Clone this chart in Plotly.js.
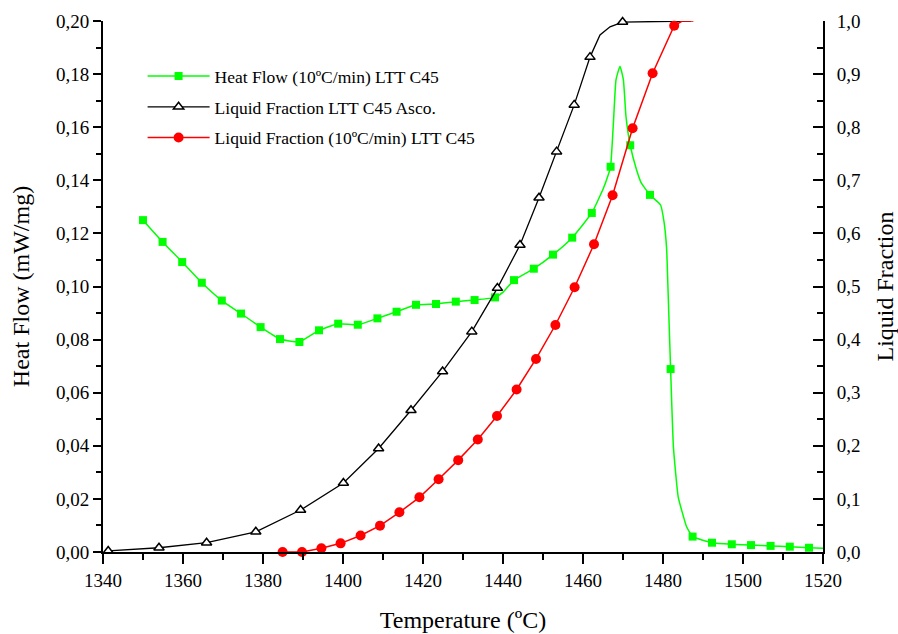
<!DOCTYPE html>
<html>
<head>
<meta charset="utf-8">
<script src="https://cdn.plot.ly/plotly-3.0.1.min.js"></script>
<style>html,body{margin:0;padding:0;background:#fff;}#chart{width:898px;height:634px;}</style>
</head>
<body>
<div id="chart"></div>
<script>
// Heat flow curve (dense line) and its marker points
var hfLineT = [1350.0,1354.9,1359.8,1364.7,1369.7,1374.5,1379.4,1384.25,1386.5,1389.1,1394.0,1398.8,1403.7,1408.6,1413.4,1418.25,1423.25,1428.2,1432.9,1438.0,1440.1,1442.75,1447.7,1452.5,1457.3,1462.2,1465.1,1466.3,1466.9,1467.6,1468.25,1469.25,1470.1,1470.75,1471.8,1473.4,1474.6,1476.75,1479.4,1480.25,1480.9,1481.3,1481.9,1482.6,1483.8,1485.9,1487.4,1492.25,1497.2,1502.0,1506.9,1511.7,1516.5,1520.0];
var hfLineV = [0.1250,0.1168,0.1092,0.1014,0.0947,0.0898,0.0847,0.0802,0.0795,0.0791,0.0835,0.0860,0.0856,0.0880,0.0905,0.0931,0.0934,0.0943,0.0949,0.0959,0.0980,0.1024,0.1067,0.1120,0.1184,0.1277,0.1370,0.1420,0.1451,0.1615,0.1778,0.1830,0.1778,0.1640,0.1532,0.1439,0.1389,0.1345,0.1307,0.1244,0.1144,0.0968,0.0689,0.0397,0.0208,0.0095,0.0058,0.0035,0.0029,0.0026,0.0023,0.0020,0.0016,0.0014];
var hfMarkT = [1350.0,1354.9,1359.8,1364.7,1369.7,1374.5,1379.4,1384.25,1389.1,1394.0,1398.8,1403.7,1408.6,1413.4,1418.25,1423.25,1428.2,1432.9,1438.0,1442.75,1447.7,1452.5,1457.3,1462.2,1466.9,1471.8,1476.75,1481.9,1487.4,1492.25,1497.2,1502.0,1506.9,1511.7,1516.5];
var hfMarkV = [0.1250,0.1168,0.1092,0.1014,0.0947,0.0898,0.0847,0.0802,0.0791,0.0835,0.0860,0.0856,0.0880,0.0905,0.0931,0.0934,0.0943,0.0949,0.0959,0.1024,0.1067,0.1120,0.1184,0.1277,0.1451,0.1532,0.1345,0.0689,0.0058,0.0035,0.0029,0.0026,0.0023,0.0020,0.0016];

// Liquid fraction LTT C45 Asco. (black, triangles)
var ascoLineT = [1341.3,1354.0,1365.9,1378.2,1389.4,1400.1,1408.9,1417.0,1424.9,1432.2,1438.6,1444.25,1449.0,1453.4,1457.8,1461.75,1464.25,1466.75,1469.9,1487.0];
var ascoLineV = [0.002,0.008,0.0175,0.038,0.079,0.130,0.195,0.267,0.340,0.415,0.497,0.578,0.667,0.754,0.842,0.932,0.9736,0.989,0.998,1.0];
var ascoMarkT = [1341.3,1354.0,1365.9,1378.2,1389.4,1400.1,1408.9,1417.0,1424.9,1432.2,1438.6,1444.25,1449.0,1453.4,1457.8,1461.75,1469.9];
var ascoMarkV = [0.002,0.008,0.0175,0.038,0.079,0.130,0.195,0.267,0.340,0.415,0.497,0.578,0.667,0.754,0.842,0.932,0.998];

// Liquid fraction (10ºC/min) LTT C45 (red, circles)
var lfLineT = [1384.9,1389.75,1394.6,1399.4,1404.4,1409.25,1414.1,1419.1,1423.9,1428.8,1433.7,1438.5,1443.4,1448.25,1453.1,1457.9,1462.75,1467.4,1472.4,1477.4,1482.8,1484.8,1487.6];
var lfLineV = [0.000,0.000,0.007,0.0163,0.031,0.0496,0.0747,0.103,0.137,0.173,0.212,0.256,0.306,0.3635,0.4275,0.4985,0.5795,0.672,0.798,0.9015,0.991,1.0,1.0];
var lfMarkT = [1384.9,1389.75,1394.6,1399.4,1404.4,1409.25,1414.1,1419.1,1423.9,1428.8,1433.7,1438.5,1443.4,1448.25,1453.1,1457.9,1462.75,1467.4,1472.4,1477.4,1482.8];
var lfMarkV = [0.000,0.000,0.007,0.0163,0.031,0.0496,0.0747,0.103,0.137,0.173,0.212,0.256,0.306,0.3635,0.4275,0.4985,0.5795,0.672,0.798,0.9015,0.991];

var names = ['Heat Flow (10ºC/min) LTT C45', 'Liquid Fraction LTT C45 Asco.', 'Liquid Fraction (10ºC/min) LTT C45'];
var xTitle = 'Temperature (ºC)';
var yTitle = 'Heat Flow (mW/mg)';
var y2Title = 'Liquid Fraction';

var GREEN = '#00ff00', BLACK = '#000000', RED = '#ff0000';
var FONT = 'Liberation Serif, Times New Roman, serif';

var traces = [
  // Heat flow
  {x: hfLineT, y: hfLineV, mode: 'lines', line: {color: GREEN, width: 1.5, shape: 'spline', smoothing: 0.4}, showlegend: false, hoverinfo: 'skip', xaxis: 'x', yaxis: 'y'},
  {x: hfMarkT, y: hfMarkV, mode: 'markers', marker: {symbol: 'square', size: 8, color: GREEN}, showlegend: false, cliponaxis: false, xaxis: 'x', yaxis: 'y'},
  {x: [null], y: [null], mode: 'lines+markers', name: names[0], legendgroup: 'g1', line: {color: GREEN, width: 1.5}, marker: {symbol: 'square', size: 8, color: GREEN}, xaxis: 'x', yaxis: 'y'},
  // Asco
  {x: ascoLineT, y: ascoLineV, mode: 'lines', line: {color: BLACK, width: 1.3}, showlegend: false, hoverinfo: 'skip', cliponaxis: false, xaxis: 'x', yaxis: 'y2'},
  {x: ascoMarkT, y: ascoMarkV, mode: 'markers', marker: {symbol: 'triangle-up', size: 9, color: '#ffffff', line: {color: BLACK, width: 1.5}}, showlegend: false, cliponaxis: false, xaxis: 'x', yaxis: 'y2'},
  {x: [null], y: [null], mode: 'lines+markers', name: names[1], legendgroup: 'g2', line: {color: BLACK, width: 1.3}, marker: {symbol: 'triangle-up', size: 9, color: '#ffffff', line: {color: BLACK, width: 1.5}}, xaxis: 'x', yaxis: 'y2'},
  // Red
  {x: lfLineT, y: lfLineV, mode: 'lines', line: {color: RED, width: 1.5}, showlegend: false, hoverinfo: 'skip', cliponaxis: false, xaxis: 'x', yaxis: 'y2'},
  {x: lfMarkT, y: lfMarkV, mode: 'markers', marker: {symbol: 'circle', size: 10, color: RED}, showlegend: false, cliponaxis: false, xaxis: 'x', yaxis: 'y2'},
  {x: [null], y: [null], mode: 'lines+markers', name: names[2], legendgroup: 'g3', line: {color: RED, width: 1.5}, marker: {symbol: 'circle', size: 10, color: RED}, xaxis: 'x', yaxis: 'y2'}
];

var layout = {
  width: 898, height: 634,
  margin: {l: 103, r: 75, t: 21, b: 82},
  paper_bgcolor: '#ffffff', plot_bgcolor: '#ffffff',
  font: {family: FONT, color: '#000', size: 18},
  separators: ',.',
  showlegend: true,
  legend: {x: 0.055, y: 0.93, xanchor: 'left', yanchor: 'top', bgcolor: 'rgba(0,0,0,0)', borderwidth: 0,
           font: {family: FONT, size: 17.5, color: '#000'}, itemwidth: 62, traceorder: 'grouped', tracegroupgap: 5},
  xaxis: {range: [1340, 1520], dtick: 20, tick0: 1340, ticks: 'outside', ticklen: 10, tickwidth: 2, tickcolor: '#000',
          showline: true, linewidth: 2, linecolor: '#000', showgrid: false, zeroline: false,
          minor: {dtick: 10, ticks: 'outside', ticklen: 6, tickwidth: 2, tickcolor: '#000', showgrid: false},
          tickfont: {family: FONT, size: 19},
          title: {text: xTitle, font: {family: FONT, size: 24}, standoff: 21}},
  xaxis2: {overlaying: 'x', side: 'top', anchor: 'y', range: [1340, 1520], dtick: 20, tick0: 1340, ticks: 'inside', ticklen: 10, tickwidth: 2,
           tickcolor: '#000', showline: true, linewidth: 2, linecolor: '#000', showgrid: false, zeroline: false, showticklabels: false,
           minor: {dtick: 10, ticks: 'inside', ticklen: 6, tickwidth: 2, tickcolor: '#000', showgrid: false}},
  yaxis: {range: [0, 0.2], dtick: 0.02, tick0: 0, tickformat: '.2f', ticks: 'outside', ticklen: 8, tickwidth: 2, tickcolor: '#000',
          showline: true, linewidth: 2, linecolor: '#000', showgrid: false, zeroline: false,
          minor: {dtick: 0.01, ticks: 'outside', ticklen: 5, tickwidth: 2, tickcolor: '#000', showgrid: false},
          tickfont: {family: FONT, size: 19},
          title: {text: yTitle, font: {family: FONT, size: 24}, standoff: 20}},
  yaxis2: {overlaying: 'y', side: 'right', anchor: 'x', range: [0, 1], dtick: 0.1, tick0: 0, tickformat: '.1f', ticks: 'inside', ticklen: 10, tickwidth: 2,
           tickcolor: '#000', showline: true, linewidth: 2, linecolor: '#000', showgrid: false, zeroline: false,
           minor: {dtick: 0.05, ticks: 'inside', ticklen: 6, tickwidth: 2, tickcolor: '#000', showgrid: false},
           tickfont: {family: FONT, size: 19}, ticklabelstandoff: 8,
           title: {text: y2Title, font: {family: FONT, size: 24}, standoff: 19}}
};

Plotly.newPlot('chart', traces, layout, {staticPlot: true, displayModeBar: false});
</script>
</body>
</html>
